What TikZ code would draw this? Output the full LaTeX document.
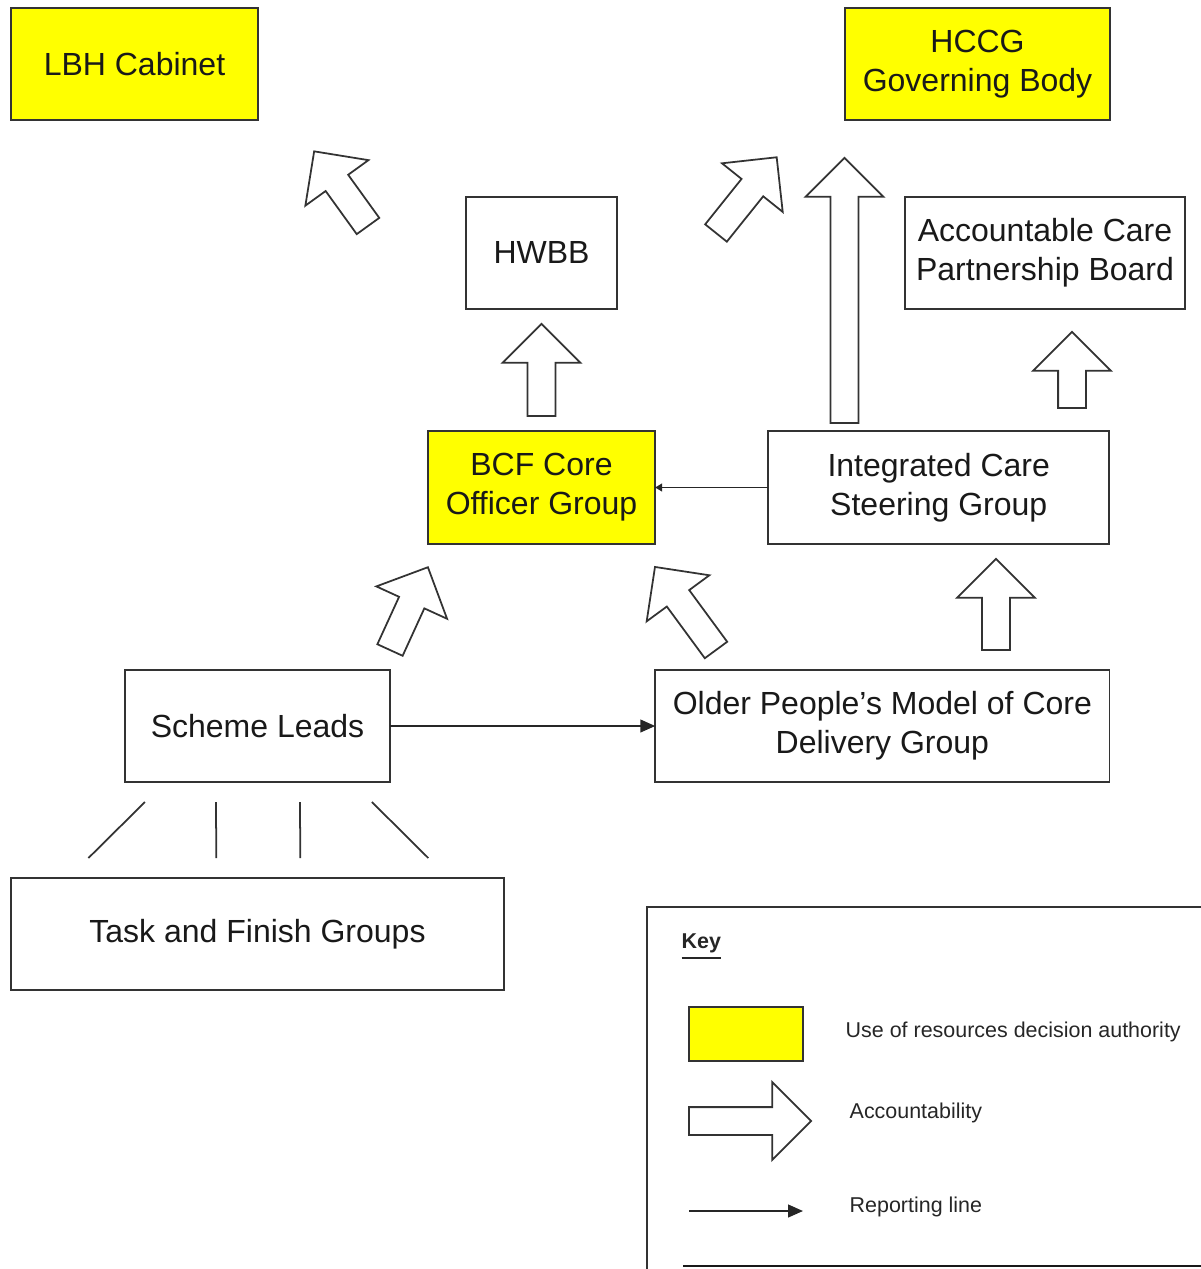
\documentclass[tikz,border=0pt]{standalone}
\usepackage{fontspec}
\setmainfont{Liberation Sans}
\usepackage{tikz}
\usetikzlibrary{positioning, calc, arrows, arrows.meta, shapes.arrows}
\definecolor{boardyellow}{RGB}{255,255,0}
\tikzset{
 block/.style = {
    rectangle, draw=black!80, line width=0.5pt, fill=white,
    text=black!90, align=center,
    font=\fontsize{9.1}{11.1}\selectfont,
    minimum height=1.12cm, inner sep=0pt, outer sep=0pt},
 decision/.style = {
    block, fill=boardyellow},
 line/.style = {
    draw, black!85, line width=0.5pt, -{Triangle[length=4.2pt, width=3.6pt]}},
 small line/.style = {
    line, -{Triangle[length=2pt, width=2.2pt]}},
 acc arrow/.style = {
    single arrow, draw=black!80, line width=0.5pt, fill=white,
    minimum width=0.76cm, single arrow head extend=0.25cm,
    inner xsep=0pt, inner ysep=0.13cm, outer sep=0pt, anchor=tail},
 key label/.style = {
    anchor=west, text=black!85, inner sep=0pt,
    font=\fontsize{6.1}{7.3}\selectfont},
}

\begin{document}
\begin{tikzpicture}[x=0.01cm, y=-0.01cm]
\useasboundingbox (0,0) rectangle (1201,1269);
\clip (0,0) rectangle (1201,1269);

% Place nodes
\node [decision, minimum width=2.47cm] (1) at (134.5,64) {LBH Cabinet};
\node [decision, minimum width=2.65cm] (2) at (977.5,64) {HCCG\\Governing Body};
\node [decision, minimum width=2.27cm, minimum height=1.13cm] (5) at (541.5,487.5) {BCF Core\\Officer Group};
\node [block, minimum width=1.51cm, above=1.22cm of 5] (3) {HWBB};
\node [block, minimum width=3.41cm, minimum height=1.13cm, right=1.13cm of 5] (6) {Integrated Care\\Steering Group};
\node [block, minimum width=2.80cm] (4) at (1045,253) {Accountable Care\\Partnership Board};
\node [block, minimum width=2.65cm] (7) at (257.5,726) {Scheme Leads};
\node [block, minimum width=4.54cm, right=2.65cm of 7] (8) {Older People's Model of Core\\Delivery Group};
\node [block, minimum width=4.92cm, below=0.96cm of 7] (9) {Task and Finish Groups};

% Accountability arrows
\node [acc arrow, rotate=125.8, minimum height=0.92cm] (a1) at (368,226) {};
\node [acc arrow, rotate=51.3, minimum height=0.97cm] (a2) at (716,233) {};
\node [acc arrow, rotate=90, minimum height=2.65cm] (a3) at (844.5,423) {};
\node [acc arrow, rotate=90, minimum height=0.92cm] (a4) at (541.5,416) {};
\node [acc arrow, rotate=90, minimum height=0.76cm] (a5) at (1072,408) {};
\node [acc arrow, rotate=90, minimum height=0.91cm] (a6) at (996,650) {};
\node [acc arrow, rotate=65.4, minimum height=0.91cm] (a7) at (390,650) {};
\node [acc arrow, rotate=126.3, minimum height=1.03cm] (a8) at (716,650) {};

% Reporting lines
\path [small line] (6) -- (5);
\path [line] (7) -- (8);

% Scheme leads to task and finish groups
\draw [black!80, line width=0.5pt] ($(7.south west)+(20,20)$) -- ($(9.north west)+(77,-20)$);
\draw [black!80, line width=0.5pt] ($(7.south west)+(91,20)$) -- ($(9.north west)+(205,-20)$);
\draw [black!80, line width=0.5pt] ($(7.south west)+(175,20)$) -- ($(9.north west)+(289,-20)$);
\draw [black!80, line width=0.5pt] ($(7.south west)+(247,20)$) -- ($(9.north west)+(417,-20)$);

% Key
\draw [black!80, line width=0.5pt] (647,907) rectangle (1240,1300);
\draw [black!90, line width=0.8pt] (683,1266) -- (1201,1266);
\node [key label, font=\fontsize{6.1}{7.3}\selectfont\bfseries] (k) at (681,947) {\underline{Key}};
\node [decision, minimum width=1.14cm, minimum height=0.54cm] (k1) at (746,1034) {};
\node [key label] (k1t) at (845,1032) {Use of resources decision authority};
\node [acc arrow, minimum height=1.22cm, minimum width=0.74cm] (k2) at (689,1121) {};
\node [key label] (k2t) at (849,1113) {Accountability};
\coordinate (k3a) at (689,1211);
\coordinate (k3b) at (803,1211);
\path [line] (k3a) -- (k3b);
\node [key label] (k3t) at (849,1207) {Reporting line};

\end{tikzpicture}
\end{document}
